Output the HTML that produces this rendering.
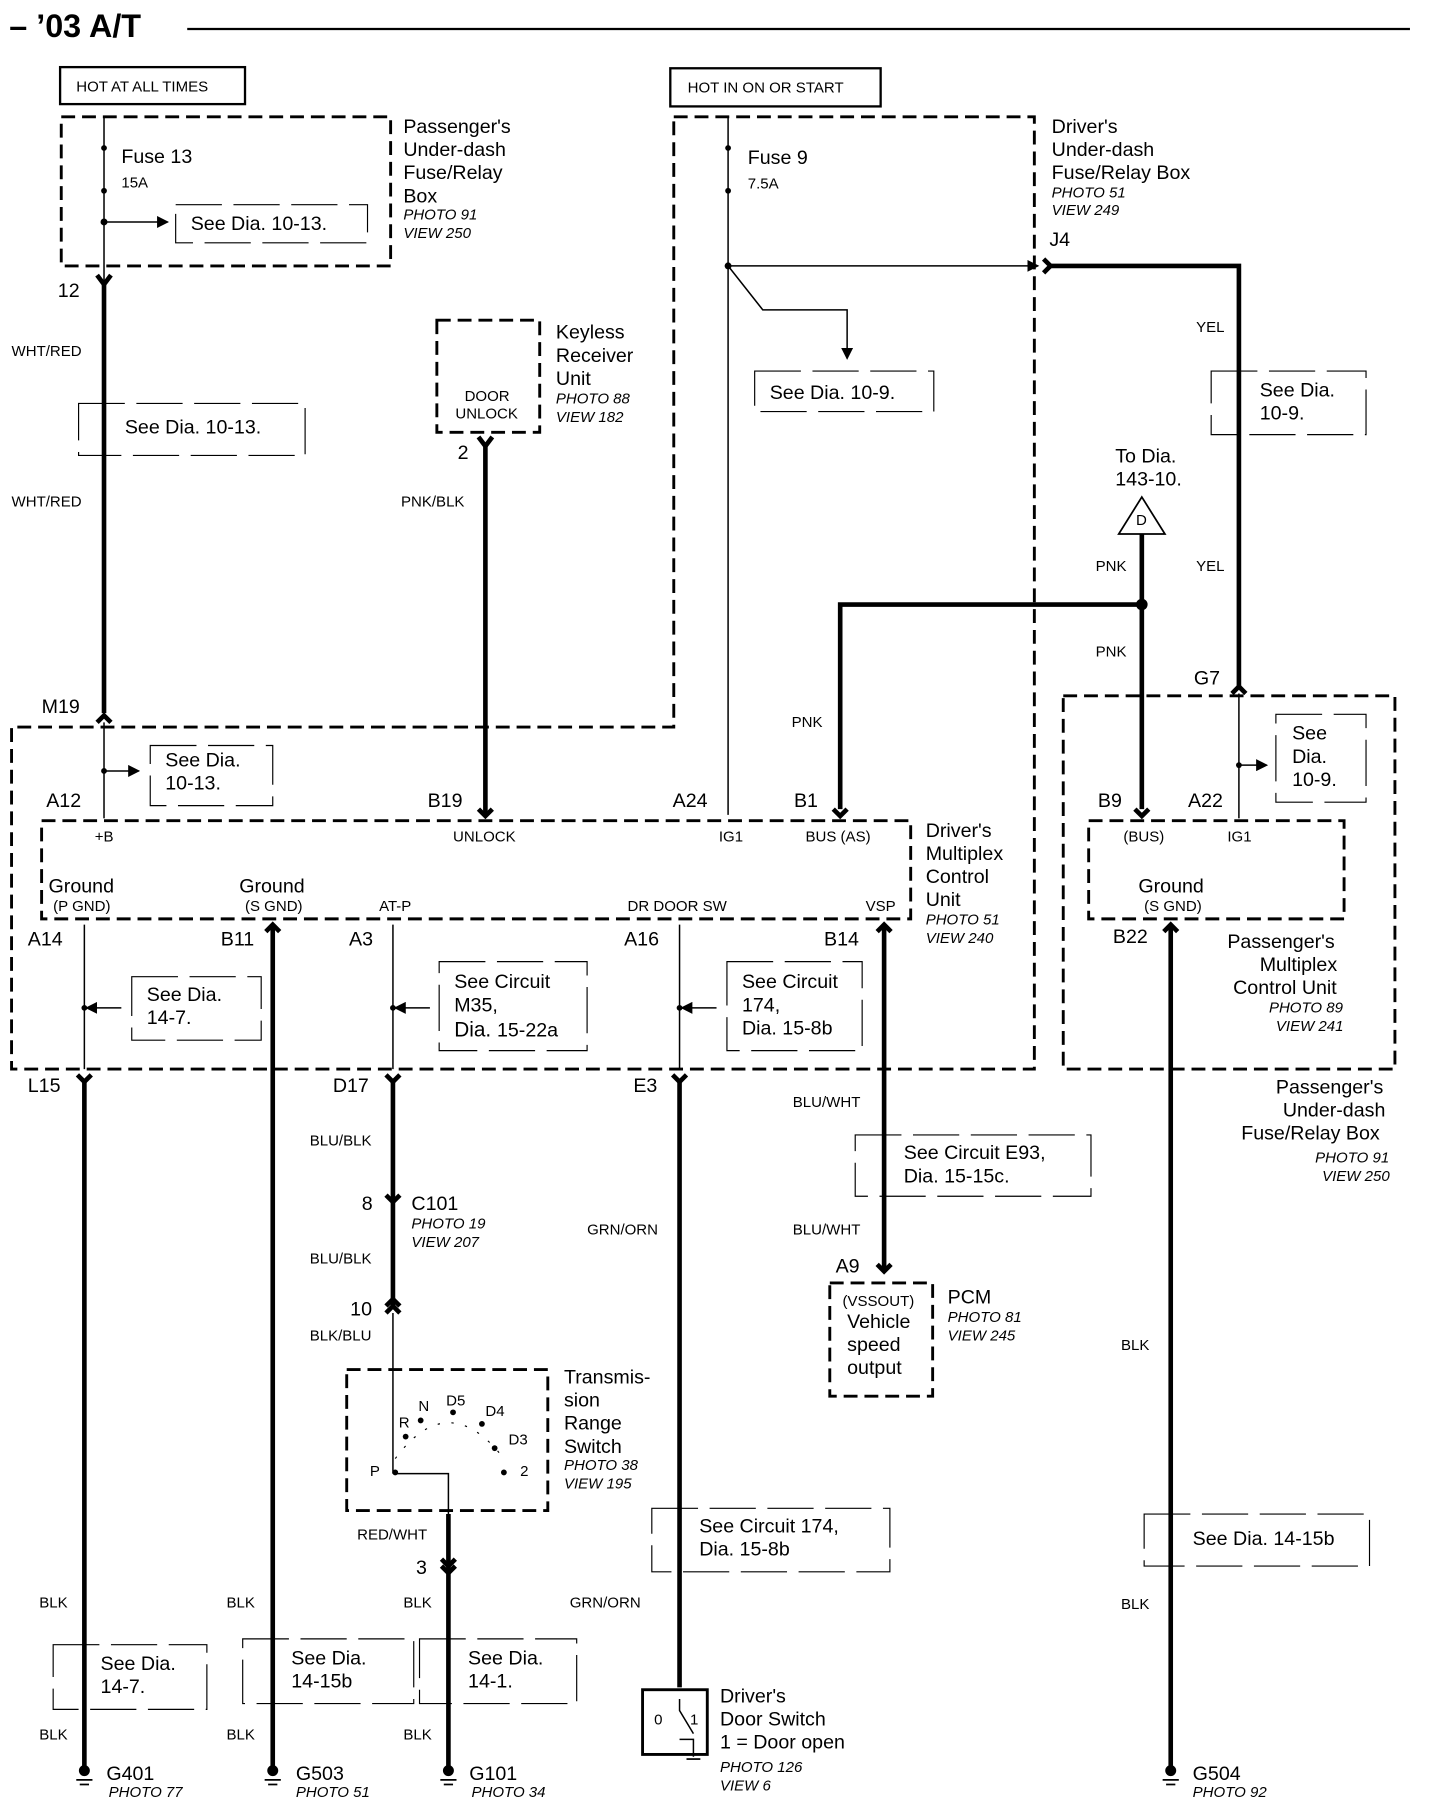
<!DOCTYPE html>
<html><head><meta charset="utf-8"><style>
html,body{margin:0;padding:0;background:#fff}
svg{display:block}
text{font-family:"Liberation Sans",sans-serif;fill:#000}
.s{font-size:13px}.m{font-size:17px}.i{font-size:13px;font-style:italic}.l{font-size:18px}
.d{fill:none;stroke:#000;stroke-width:2.5;stroke-dasharray:12 6}
.dt{fill:none;stroke:#000;stroke-width:1;stroke-dasharray:40 10}
.w{stroke:#000;stroke-width:4;fill:none}
.t{stroke:#000;stroke-width:1.3;fill:none}
</style></head><body>
<svg width="1440" height="1810" viewBox="0 0 1246 1566" xmlns="http://www.w3.org/2000/svg">
<defs><marker id="a" markerWidth="8" markerHeight="8" refX="7" refY="4" orient="auto"><path d="M0,0 L8,4 L0,8z" fill="#000"/></marker></defs>
<text x="8" y="32" style="font-size:28px;font-weight:bold">– ’03 A/T</text>
<line x1="162" y1="25" x2="1220" y2="25" stroke="#000" stroke-width="2"/>
<rect x="52" y="58" width="160" height="32" fill="none" stroke="#000" stroke-width="2"/>
<text x="66" y="79" class="s">HOT AT ALL TIMES</text>
<rect x="580" y="59" width="182" height="33" fill="none" stroke="#000" stroke-width="2"/>
<text x="595" y="80" class="s">HOT IN ON OR START</text>
<rect x="53" y="101" width="285" height="129" class="d"/>
<line x1="90" y1="101" x2="90" y2="245" class="t"/>
<circle cx="90" cy="128" r="2.5"/><circle cx="90" cy="165" r="2.5"/><circle cx="90" cy="192" r="3"/>
<line x1="90" y1="192" x2="145" y2="192" class="t" marker-end="url(#a)"/>
<rect x="152" y="177" width="166" height="33" class="dt"/>
<text x="105" y="141" class="m">Fuse 13</text><text x="105" y="162" class="s">15A</text>
<text x="165" y="199" class="m">See  Dia.  10-13.</text>
<text x="349" y="115" class="m">Passenger's</text><text x="349" y="135" class="m">Under-dash</text><text x="349" y="155" class="m">Fuse/Relay</text><text x="349" y="175" class="m">Box</text>
<text x="349" y="190" class="i">PHOTO 91</text><text x="349" y="206" class="i">VIEW 250</text>
<text x="50" y="257" class="m">12</text>
<path d="M84,238 L90,246 L96,238" class="w" stroke-width="3"/>
<line x1="90" y1="246" x2="90" y2="617" class="w"/>
<text x="10" y="308" class="s">WHT/RED</text><text x="10" y="438" class="s">WHT/RED</text>
<rect x="68" y="349" width="196" height="45" class="dt"/>
<text x="108" y="375" class="m">See  Dia.  10-13.</text>
<path d="M583,101 L895,101 L895,925 L10,925 L10,629 L583,629 Z" class="d"/>
<line x1="630" y1="101" x2="630" y2="705" class="t"/>
<circle cx="630" cy="128" r="2.5"/><circle cx="630" cy="165" r="2.5"/><circle cx="630" cy="230" r="3"/>
<text x="647" y="142" class="m">Fuse 9</text><text x="647" y="163" class="s">7.5A</text>
<line x1="630" y1="230" x2="898" y2="230" class="t" marker-end="url(#a)"/>
<path d="M630,230 L660,268 L733,268 L733,310" class="t" marker-end="url(#a)"/>
<rect x="653" y="321" width="155" height="35" class="dt"/>
<text x="666" y="345" class="m">See  Dia.  10-9.</text>
<text x="910" y="115" class="m">Driver's</text><text x="910" y="135" class="m">Under-dash</text><text x="910" y="155" class="m">Fuse/Relay Box</text>
<text x="910" y="171" class="i">PHOTO 51</text><text x="910" y="186" class="i">VIEW 249</text>
<text x="908" y="213" class="m">J4</text>
<path d="M903,224 L909,230 L903,236" class="w" stroke-width="3"/>
<path d="M909,230 L1072,230 L1072,596" class="w"/>
<text x="1035" y="287" class="s">YEL</text><text x="1035" y="494" class="s">YEL</text>
<rect x="1048" y="321" width="134" height="55" class="dt"/>
<text x="1090" y="343" class="m">See  Dia.</text><text x="1090" y="363" class="m">10-9.</text>
<rect x="378" y="277" width="89" height="97" class="d"/>
<text x="402" y="347" class="s">DOOR</text><text x="394" y="362" class="s">UNLOCK</text>
<text x="481" y="293" class="m">Keyless</text><text x="481" y="313" class="m">Receiver</text><text x="481" y="333" class="m">Unit</text>
<text x="481" y="349" class="i">PHOTO 88</text><text x="481" y="365" class="i">VIEW 182</text>
<path d="M414,378 L420,386 L426,378" class="w" stroke-width="3"/>
<text x="396" y="397" class="m">2</text>
<line x1="420" y1="386" x2="420" y2="704" class="w"/>
<text x="347" y="438" class="s">PNK/BLK</text>
<text x="965" y="400" class="m">To  Dia.</text><text x="965" y="420" class="m">143-10.</text>
<path d="M988,430 L1008,462 L968,462 Z" fill="#fff" stroke="#000" stroke-width="1.5"/>
<text x="983" y="454" class="s">D</text>
<line x1="988" y1="462" x2="988" y2="700" class="w"/>
<circle cx="988" cy="523" r="5"/>
<path d="M988,523 L727,523 L727,700" class="w"/>
<text x="948" y="494" class="s">PNK</text><text x="948" y="568" class="s">PNK</text><text x="685" y="629" class="s">PNK</text>
<text x="1033" y="592" class="m">G7</text>
<path d="M1066,600 L1072,594 L1078,600" class="w" stroke-width="3"/>
<text x="36" y="617" class="m">M19</text>
<path d="M84,625 L90,619 L96,625" class="w" stroke-width="3"/>
<line x1="90" y1="625" x2="90" y2="708" class="t"/><circle cx="90" cy="667" r="2.5"/>
<line x1="90" y1="667" x2="120" y2="667" class="t" marker-end="url(#a)"/>
<rect x="130" y="645" width="106" height="52" class="dt"/>
<text x="143" y="663" class="m">See  Dia.</text><text x="143" y="683" class="m">10-13.</text>
<rect x="36" y="710" width="752" height="85" class="d"/>
<text x="40" y="698" class="m">A12</text><text x="370" y="698" class="m">B19</text><text x="582" y="698" class="m">A24</text><text x="687" y="698" class="m">B1</text>
<path d="M414,700 L420,706 L426,700" class="w" stroke-width="3"/>
<path d="M721,700 L727,706 L733,700" class="w" stroke-width="3"/>
<text x="82" y="728" class="s">+B</text><text x="392" y="728" class="s">UNLOCK</text><text x="622" y="728" class="s">IG1</text><text x="697" y="728" class="s">BUS (AS)</text>
<text x="42" y="772" class="m">Ground</text><text x="46" y="788" class="s">(P GND)</text>
<text x="207" y="772" class="m">Ground</text><text x="212" y="788" class="s">(S GND)</text>
<text x="328" y="788" class="s">AT-P</text><text x="543" y="788" class="s">DR DOOR SW</text><text x="749" y="788" class="s">VSP</text>
<text x="801" y="724" class="m">Driver's</text><text x="801" y="744" class="m">Multiplex</text><text x="801" y="764" class="m">Control</text><text x="801" y="784" class="m">Unit</text>
<text x="801" y="800" class="i">PHOTO 51</text><text x="801" y="816" class="i">VIEW 240</text>
<text x="24" y="818" class="m">A14</text><text x="191" y="818" class="m">B11</text><text x="302" y="818" class="m">A3</text><text x="540" y="818" class="m">A16</text><text x="713" y="818" class="m">B14</text>
<line x1="73" y1="800" x2="73" y2="925" class="t"/><circle cx="73" cy="872" r="2.5"/>
<line x1="105" y1="872" x2="75" y2="872" class="t" marker-end="url(#a)"/>
<rect x="114" y="845" width="112" height="55" class="dt"/>
<text x="127" y="866" class="m">See  Dia.</text><text x="127" y="886" class="m">14-7.</text>
<path d="M230,806 L236,800 L242,806" class="w" stroke-width="3"/>
<line x1="236" y1="800" x2="236" y2="1530" class="w"/>
<line x1="340" y1="800" x2="340" y2="925" class="t"/><circle cx="340" cy="872" r="2.5"/>
<line x1="372" y1="872" x2="342" y2="872" class="t" marker-end="url(#a)"/>
<rect x="380" y="832" width="128" height="77" class="dt"/>
<text x="393" y="855" class="m">See Circuit</text><text x="393" y="875" class="m">M35,</text><text x="393" y="897" class="l">Dia. <tspan class="m">15-22a</tspan></text>
<line x1="588" y1="800" x2="588" y2="925" class="t"/><circle cx="588" cy="872" r="2.5"/>
<line x1="620" y1="872" x2="590" y2="872" class="t" marker-end="url(#a)"/>
<rect x="629" y="832" width="117" height="77" class="dt"/>
<text x="642" y="855" class="m">See Circuit</text><text x="642" y="875" class="m">174,</text><text x="642" y="895" class="m">Dia.  15-8b</text>
<path d="M759,806 L765,800 L771,806" class="w" stroke-width="3"/>
<line x1="765" y1="800" x2="765" y2="1100" class="w"/>
<text x="24" y="945" class="m">L15</text><text x="288" y="945" class="m">D17</text><text x="548" y="945" class="m">E3</text>
<path d="M67,930 L73,936 L79,930 M334,930 L340,936 L346,930 M582,930 L588,936 L594,930" class="w" stroke-width="3"/>
<line x1="73" y1="936" x2="73" y2="1530" class="w"/>
<line x1="340" y1="936" x2="340" y2="1130" class="w"/>
<line x1="588" y1="936" x2="588" y2="1460" class="w"/>
<text x="686" y="958" class="s">BLU/WHT</text><text x="686" y="1068" class="s">BLU/WHT</text>
<rect x="740" y="982" width="204" height="53" class="dt"/>
<text x="782" y="1003" class="m">See Circuit E93,</text><text x="782" y="1023" class="m">Dia.  15-15c.</text>
<text x="723" y="1101" class="m">A9</text>
<path d="M759,1094 L765,1100 L771,1094" class="w" stroke-width="3"/>
<rect x="718" y="1110" width="89" height="98" class="d"/>
<text x="729" y="1130" class="s">(VSSOUT)</text><text x="733" y="1149" class="m">Vehicle</text><text x="733" y="1169" class="m">speed</text><text x="733" y="1189" class="m">output</text>
<text x="820" y="1128" class="m">PCM</text><text x="820" y="1144" class="i">PHOTO 81</text><text x="820" y="1160" class="i">VIEW 245</text>
<text x="268" y="991" class="s">BLU/BLK</text><text x="268" y="1093" class="s">BLU/BLK</text><text x="268" y="1160" class="s">BLK/BLU</text>
<text x="313" y="1047" class="m">8</text><text x="303" y="1138" class="m">10</text>
<path d="M334,1034 L340,1040 L346,1034 M334,1130 L340,1124 L346,1130 M334,1136 L340,1130 L346,1136" class="w" stroke-width="2.5"/>
<text x="356" y="1047" class="m">C101</text><text x="356" y="1063" class="i">PHOTO 19</text><text x="356" y="1079" class="i">VIEW 207</text>
<line x1="340" y1="1136" x2="340" y2="1275" class="t"/>
<rect x="300" y="1185" width="174" height="122" class="d"/>
<path d="M342,1262 Q388,1200 436,1262" fill="none" stroke="#000" stroke-width="1" stroke-dasharray="2 10"/>
<circle cx="342" cy="1274" r="2.5"/><circle cx="351" cy="1243" r="2.5"/><circle cx="364" cy="1229" r="2.5"/><circle cx="392" cy="1222" r="2.5"/><circle cx="417" cy="1232" r="2.5"/><circle cx="428" cy="1253" r="2.5"/><circle cx="436" cy="1274" r="2.5"/>
<path d="M342,1275 L388,1275 L388,1310" class="t"/>
<text x="320" y="1277" class="s">P</text><text x="345" y="1235" class="s">R</text><text x="362" y="1221" class="s">N</text><text x="386" y="1216" class="s">D5</text><text x="420" y="1225" class="s">D4</text><text x="440" y="1250" class="s">D3</text><text x="450" y="1277" class="s">2</text>
<text x="488" y="1197" class="m">Transmis-</text><text x="488" y="1217" class="m">sion</text><text x="488" y="1237" class="m">Range</text><text x="488" y="1257" class="m">Switch</text>
<text x="488" y="1272" class="i">PHOTO 38</text><text x="488" y="1288" class="i">VIEW 195</text>
<text x="309" y="1332" class="s">RED/WHT</text><text x="360" y="1362" class="m">3</text>
<path d="M382,1349 L388,1355 L394,1349 M382,1355 L388,1361 L394,1355" class="w" stroke-width="2.5"/>
<line x1="388" y1="1310" x2="388" y2="1530" class="w"/>
<text x="508" y="1068" class="s">GRN/ORN</text><text x="493" y="1391" class="s">GRN/ORN</text>
<rect x="564" y="1305" width="206" height="55" class="dt"/>
<text x="605" y="1326" class="m">See Circuit 174,</text><text x="605" y="1346" class="m">Dia.  15-8b</text>
<rect x="920" y="602" width="287" height="323" class="d"/>
<rect x="942" y="710" width="221" height="85" class="d"/>
<line x1="1072" y1="600" x2="1072" y2="708" class="t"/><circle cx="1072" cy="662" r="2.5"/>
<line x1="1072" y1="662" x2="1096" y2="662" class="t" marker-end="url(#a)"/>
<rect x="1104" y="618" width="78" height="76" class="dt"/>
<text x="1118" y="640" class="m">See</text><text x="1118" y="660" class="m">Dia.</text><text x="1118" y="680" class="m">10-9.</text>
<text x="950" y="698" class="m">B9</text><text x="1028" y="698" class="m">A22</text>
<path d="M982,700 L988,706 L994,700" class="w" stroke-width="3"/>
<text x="972" y="728" class="s">(BUS)</text><text x="1062" y="728" class="s">IG1</text>
<text x="985" y="772" class="m">Ground</text><text x="990" y="788" class="s">(S GND)</text>
<text x="963" y="816" class="m">B22</text>
<path d="M1007,806 L1013,800 L1019,806" class="w" stroke-width="3"/>
<line x1="1013" y1="800" x2="1013" y2="1530" class="w"/>
<text x="1062" y="820" class="m">Passenger's</text><text x="1090" y="840" class="m">Multiplex</text><text x="1067" y="860" class="m">Control Unit</text>
<text x="1098" y="876" class="i">PHOTO 89</text><text x="1104" y="892" class="i">VIEW 241</text>
<text x="1104" y="946" class="m">Passenger's</text><text x="1110" y="966" class="m">Under-dash</text><text x="1074" y="986" class="m">Fuse/Relay Box</text>
<text x="1138" y="1006" class="i">PHOTO 91</text><text x="1144" y="1022" class="i">VIEW 250</text>
<text x="970" y="1168" class="s">BLK</text><text x="970" y="1392" class="s">BLK</text>
<rect x="990" y="1310" width="195" height="45" class="dt"/>
<text x="1032" y="1337" class="m">See  Dia.  14-15b</text>
<text x="34" y="1391" class="s">BLK</text><text x="34" y="1505" class="s">BLK</text>
<text x="196" y="1391" class="s">BLK</text><text x="196" y="1505" class="s">BLK</text>
<text x="349" y="1391" class="s">BLK</text><text x="349" y="1505" class="s">BLK</text>
<rect x="46" y="1423" width="133" height="56" class="dt"/><text x="87" y="1445" class="m">See  Dia.</text><text x="87" y="1465" class="m">14-7.</text>
<rect x="210" y="1418" width="148" height="56" class="dt"/><text x="252" y="1440" class="m">See  Dia.</text><text x="252" y="1460" class="m">14-15b</text>
<rect x="363" y="1418" width="136" height="56" class="dt"/><text x="405" y="1440" class="m">See  Dia.</text><text x="405" y="1460" class="m">14-1.</text>
<g stroke="#000" stroke-width="1.5">
<circle cx="73" cy="1532" r="4"/><line x1="66" y1="1540" x2="80" y2="1540"/><line x1="69" y1="1544" x2="77" y2="1544"/>
<circle cx="236" cy="1532" r="4"/><line x1="229" y1="1540" x2="243" y2="1540"/><line x1="232" y1="1544" x2="240" y2="1544"/>
<circle cx="388" cy="1532" r="4"/><line x1="381" y1="1540" x2="395" y2="1540"/><line x1="384" y1="1544" x2="392" y2="1544"/>
<circle cx="1013" cy="1532" r="4"/><line x1="1006" y1="1540" x2="1020" y2="1540"/><line x1="1009" y1="1544" x2="1017" y2="1544"/>
</g>
<text x="92" y="1540" class="m">G401</text><text x="94" y="1555" class="i">PHOTO 77</text>
<text x="256" y="1540" class="m">G503</text><text x="256" y="1555" class="i">PHOTO 51</text>
<text x="406" y="1540" class="m">G101</text><text x="408" y="1555" class="i">PHOTO 34</text>
<text x="1032" y="1540" class="m">G504</text><text x="1032" y="1555" class="i">PHOTO 92</text>
<rect x="556" y="1462" width="56" height="56" fill="none" stroke="#000" stroke-width="2.5"/>
<text x="566" y="1492" class="s">0</text><text x="597" y="1492" class="s">1</text>
<path d="M588,1470 L588,1480 L600,1500 M588,1505 L600,1505 L600,1520" class="t"/>
<line x1="594" y1="1522" x2="606" y2="1522" stroke="#000" stroke-width="1.5"/>
<text x="623" y="1473" class="m">Driver's</text><text x="623" y="1493" class="m">Door Switch</text><text x="623" y="1513" class="m">1 = Door open</text>
<text x="623" y="1533" class="i">PHOTO 126</text><text x="623" y="1549" class="i">VIEW 6</text>
</svg>
</body></html>
